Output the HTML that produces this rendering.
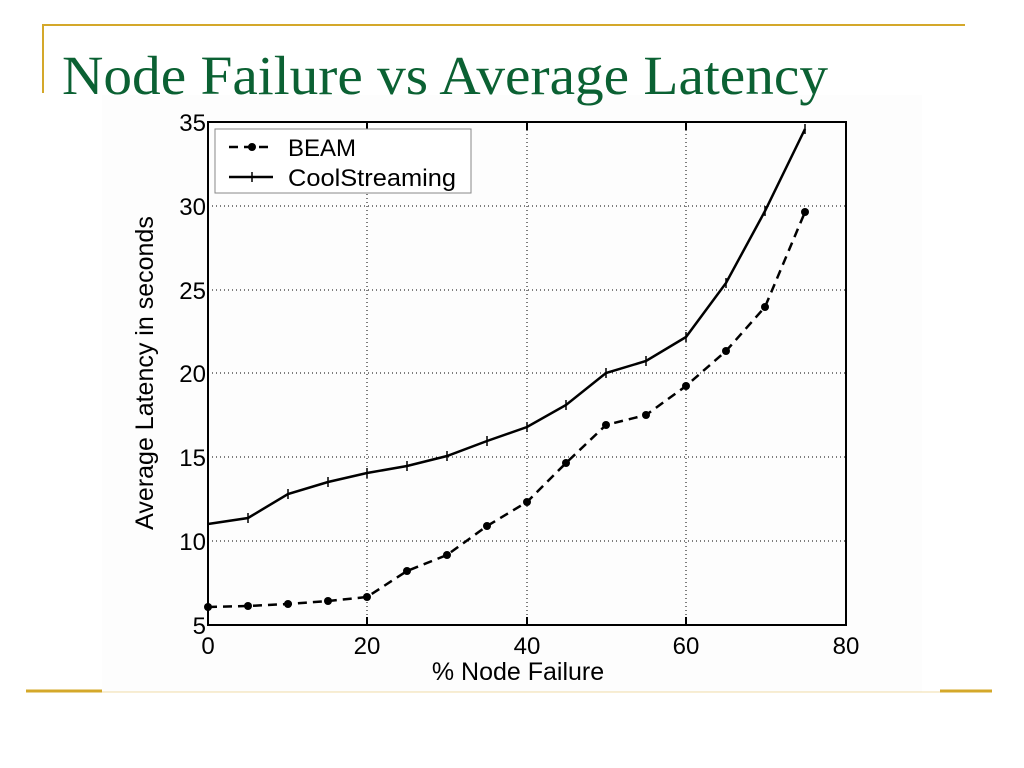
<!DOCTYPE html>
<html><head><meta charset="utf-8"><style>
html,body{margin:0;padding:0;background:#fff;width:1024px;height:768px;overflow:hidden}
</style></head><body>
<svg width="1024" height="768" viewBox="0 0 1024 768" xmlns="http://www.w3.org/2000/svg" font-family="Liberation Sans, sans-serif">
<rect x="0" y="0" width="1024" height="768" fill="#fff"/>
<line x1="42" y1="25" x2="965" y2="25" stroke="#d4a82a" stroke-width="2"/>
<line x1="43" y1="25" x2="43" y2="93" stroke="#d4a82a" stroke-width="2"/>
<rect x="102" y="95" width="820" height="597" fill="#fdfdfd"/>
<text x="62" y="94" font-family="Liberation Serif, serif" font-size="55" fill="#0b6133" textLength="766" lengthAdjust="spacingAndGlyphs">Node Failure vs Average Latency</text>
<line x1="26" y1="691" x2="102" y2="691" stroke="#d4a82a" stroke-width="3"/>
<line x1="102" y1="692" x2="940" y2="692" stroke="#f0dca8" stroke-width="1"/>
<line x1="940" y1="691" x2="992" y2="691" stroke="#d4a82a" stroke-width="3"/>
<g stroke="#000" stroke-width="1" stroke-dasharray="1,3">
<line x1="367" y1="122" x2="367" y2="625"/><line x1="527" y1="122" x2="527" y2="625"/><line x1="686" y1="122" x2="686" y2="625"/>
<line x1="208" y1="206" x2="846" y2="206"/><line x1="208" y1="290" x2="846" y2="290"/><line x1="208" y1="373" x2="846" y2="373"/><line x1="208" y1="457" x2="846" y2="457"/><line x1="208" y1="541" x2="846" y2="541"/>
</g>
<rect x="208" y="122" width="638" height="503" fill="none" stroke="#000" stroke-width="2"/>
<g stroke="#000" stroke-width="2">
<line x1="367" y1="625" x2="367" y2="617"/><line x1="527" y1="625" x2="527" y2="617"/><line x1="686" y1="625" x2="686" y2="617"/>
<line x1="367" y1="122" x2="367" y2="130"/><line x1="527" y1="122" x2="527" y2="130"/><line x1="686" y1="122" x2="686" y2="130"/>
</g>
<g font-size="24" fill="#000">
<text x="208" y="654" text-anchor="middle">0</text><text x="367" y="654" text-anchor="middle">20</text><text x="527" y="654" text-anchor="middle">40</text><text x="686" y="654" text-anchor="middle">60</text><text x="846" y="654" text-anchor="middle">80</text>
<g text-anchor="end"><text x="206" y="634">5</text><text x="206" y="550">10</text><text x="206" y="466">15</text><text x="206" y="382">20</text><text x="206" y="299">25</text><text x="206" y="215">30</text><text x="206" y="131">35</text></g>
<text x="518" y="680" text-anchor="middle" font-size="25">% Node Failure</text>
<text transform="translate(153,373) rotate(-90)" text-anchor="middle" font-size="25">Average Latency in seconds</text>
</g>
<polyline fill="none" stroke="#000" stroke-width="2.5" points="208,524 248,518 288,494 328,482 367,473 407,466 447,456 487,441 527,427 566,405 606,373 646,361 686,337 726,283 765,211 805,129"/>
<g stroke="#000" stroke-width="1.5">
<path d="M208,519v10M248,513v10M288,489v10M328,477v10M367,468v10M407,461v10M447,451v10M487,436v10M527,422v10M566,400v10M606,368v10M646,356v10M686,332v10M726,278v10M765,206v10M805,124v10"/>
</g>
<polyline fill="none" stroke="#000" stroke-width="2.5" stroke-dasharray="9,6" points="208,607 248,606 288,604 328,601 367,597 407,571 447,555 487,526 527,502 566,463 606,425 646,415 686,386 726,351 765,307 805,212"/>
<g fill="#000">
<circle cx="208" cy="607" r="4"/><circle cx="248" cy="606" r="4"/><circle cx="288" cy="604" r="4"/><circle cx="328" cy="601" r="4"/><circle cx="367" cy="597" r="4"/><circle cx="407" cy="571" r="4"/><circle cx="447" cy="555" r="4"/><circle cx="487" cy="526" r="4"/><circle cx="527" cy="502" r="4"/><circle cx="566" cy="463" r="4"/><circle cx="606" cy="425" r="4"/><circle cx="646" cy="415" r="4"/><circle cx="686" cy="386" r="4"/><circle cx="726" cy="351" r="4"/><circle cx="765" cy="307" r="4"/><circle cx="805" cy="212" r="4"/>
</g>
<rect x="215" y="129" width="256" height="64" fill="#fff" stroke="#888" stroke-width="1"/>
<line x1="229" y1="147" x2="273" y2="147" stroke="#000" stroke-width="2.5" stroke-dasharray="9,6"/>
<circle cx="252" cy="147" r="4" fill="#000"/>
<line x1="229" y1="177" x2="273" y2="177" stroke="#000" stroke-width="2.5"/>
<line x1="252" y1="172" x2="252" y2="182" stroke="#000" stroke-width="1.5"/>
<text x="288" y="156" font-size="24">BEAM</text>
<text x="288" y="186" font-size="24" textLength="168" lengthAdjust="spacingAndGlyphs">CoolStreaming</text>
</svg>
</body></html>
